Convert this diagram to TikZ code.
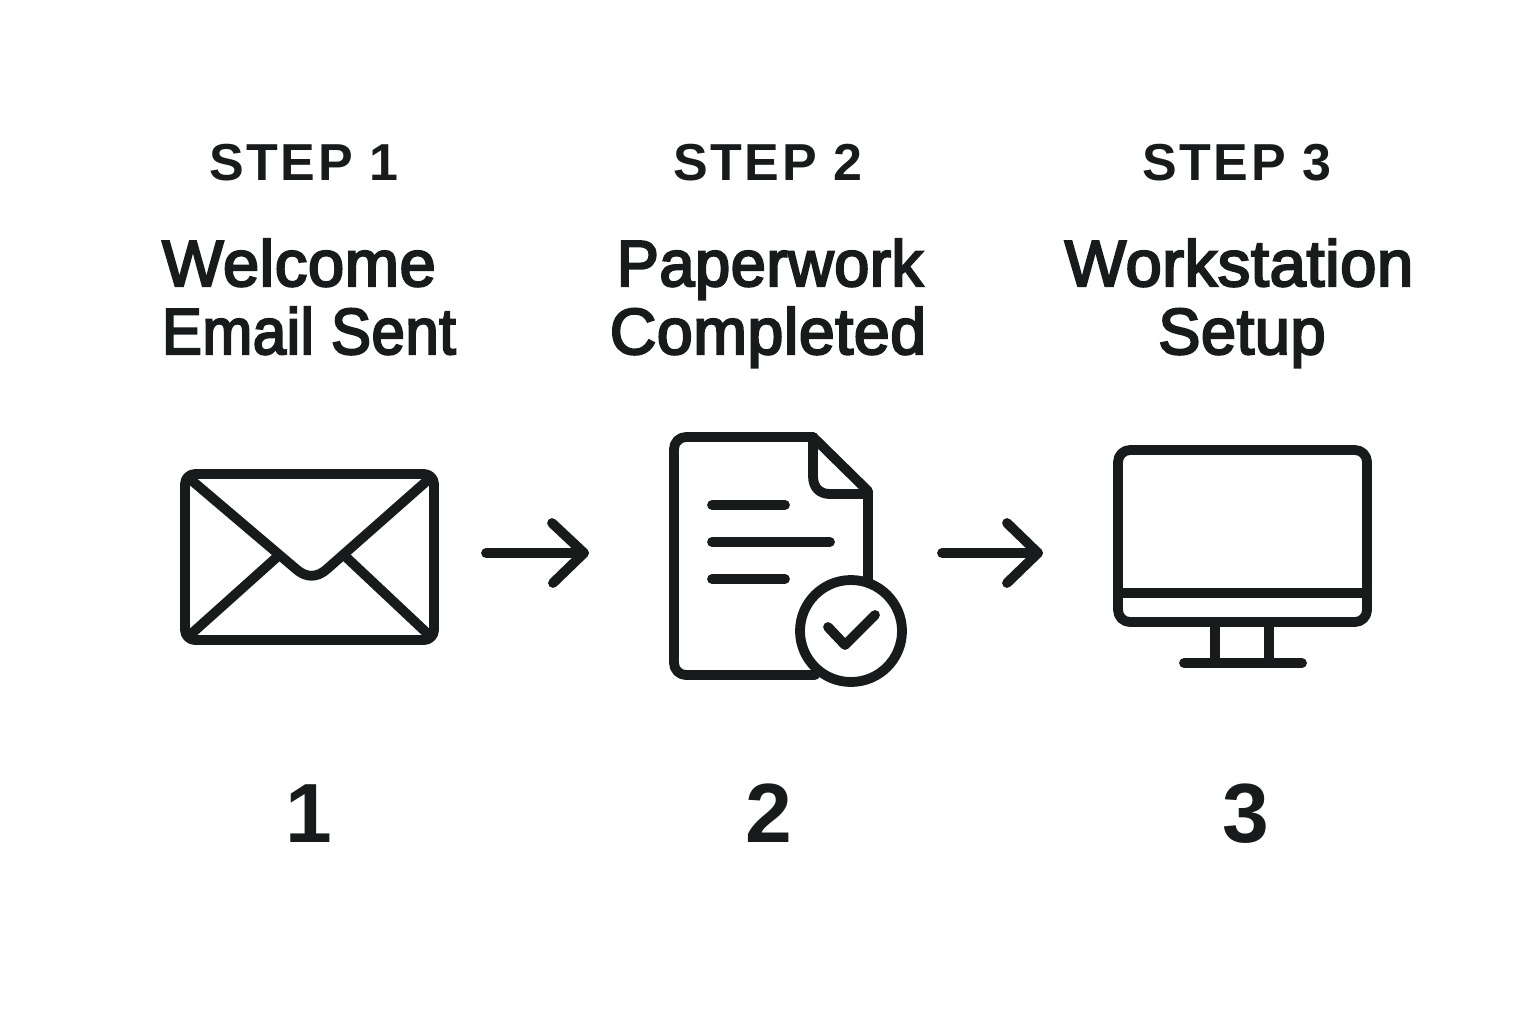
\documentclass[tikz,border=0pt]{standalone}
\usepackage{fontspec}
\setmainfont{Liberation Sans}
\newfontfamily\titlefont[FakeBold=3.5,LetterSpace=1]{Liberation Sans}
\newfontfamily\stepfont[LetterSpace=5]{Liberation Sans Bold}
\newfontfamily\numfont{Liberation Sans Bold}
\definecolor{ink}{HTML}{171B1C}
\tikzset{
  px/.style={x=0.5pt,y=-0.5pt},
  icon/.style={draw=ink,line width=4.9pt,line cap=round,line join=round},
  steplabel/.style={anchor=base,inner sep=0,text=ink,font=\fontsize{26}{30}\selectfont\stepfont},
  titlelabel/.style={anchor=base,inner sep=0,text=ink,font=\fontsize{32.5}{38}\selectfont\titlefont},
  fit width/.style={xscale=#1,transform shape},
  numlabel/.style={anchor=base,inner sep=0,text=ink,font=\fontsize{42}{50}\selectfont\numfont},
}
\begin{document}
\begin{tikzpicture}[px]
\useasboundingbox (0,0) rectangle (1536,1024);
% step labels
\node[steplabel] (s1) at (304,180) {STEP 1};
\node[steplabel] (s2) at (768,180) {STEP 2};
\node[steplabel] (s3) at (1237,180) {STEP 3};
% titles
\node[titlelabel,fit width=1.0] (t1a) at (299,286) {Welcome};
\node[titlelabel,fit width=0.92] (t1b) at (309,354) {Email Sent};
\node[titlelabel,fit width=0.97] (t2a) at (770,286) {Paperwork};
\node[titlelabel,fit width=0.99] (t2b) at (768,354) {Completed};
\node[titlelabel,fit width=1.0] (t3a) at (1239,286) {Workstation};
\node[titlelabel,fit width=0.97] (t3b) at (1242,354) {Setup};
% numbers
\node[numlabel] (n1) at (309,842) {1};
\node[numlabel] (n2) at (769,842) {2};
\node[numlabel] (n3) at (1246,842) {3};
% envelope
\draw[icon,rounded corners=5pt] (185,474) rectangle (434,640);
\draw[icon] (190,479) -- (296,569) .. controls (306,578) and (317,578) .. (327,569) -- (429,479);
\draw[icon] (190,635) -- (277,557);
\draw[icon] (346,557) -- (429,635);
% arrows
\coordinate (a1s) at (486,553);
\coordinate (a1e) at (584,553);
\coordinate (a2s) at (942,553);
\coordinate (a2e) at (1038,553);
\draw[icon] (a1s) -- (a1e);
\draw[icon] (552,523) -- (a1e) -- (553,583);
\draw[icon] (a2s) -- (a2e);
\draw[icon] (1007,523) -- (a2e) -- (1007,583);
% document
\begin{scope}[rounded corners=6pt]
\draw[icon] (813,437) -- (674,437) -- (674,675) -- (815,675);
\end{scope}
\draw[icon] (813,437) -- (868,491) -- (868,590);
\draw[icon] (813,437) -- (813,476) .. controls (813,488) and (820,494) .. (830,494) -- (868,494);
\draw[icon] (712,505) -- (785,505);
\draw[icon] (712,542) -- (830,542);
\draw[icon] (712,579) -- (785,579);
\draw[icon,fill=white] (851,631) circle[radius=51];
\draw[icon] (828,627) -- (845,645) -- (875,615);
% monitor
\draw[icon,rounded corners=6pt] (1118,450) rectangle (1367,622);
\draw[icon] (1118,593) -- (1367,593);
\draw[icon] (1215,622) -- (1215,663);
\draw[icon] (1269,622) -- (1269,663);
\draw[icon] (1184,663) -- (1302,663);
\end{tikzpicture}
\end{document}
